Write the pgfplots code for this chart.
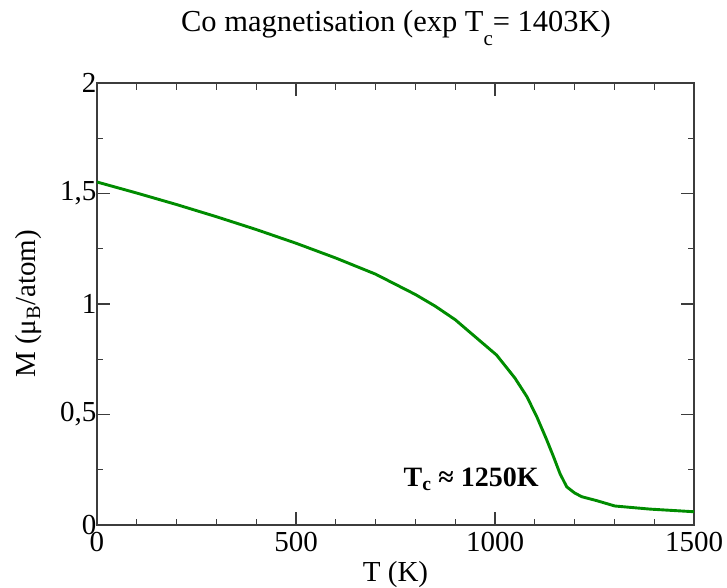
\documentclass[border=0pt]{standalone}
\usepackage{pgfplots}
\pgfplotsset{compat=1.18}
\usepackage{fontspec}
\setmainfont{Liberation Serif}
\definecolor{curve}{RGB}{0,140,0}
\definecolor{axisgray}{RGB}{60,60,60}
\begin{document}
\begin{tikzpicture}[x=1pt,y=1pt]
\useasboundingbox (0,0) rectangle (727,587);
\node[anchor=base, font=\fontsize{30.5}{35}\selectfont] at (396,555) {Co magnetisation (exp T\raisebox{-13.4pt}{\fontsize{21}{24}\selectfont c}= 1403K)};
\begin{axis}[
  at={(97pt,62pt)}, anchor=south west,
  scale only axis, width=597pt, height=442pt,
  xmin=0, xmax=1500, ymin=0, ymax=2,
  xtick={0,500,1000,1500}, minor x tick num=4,
  ytick={0,0.5,1,1.5,2}, minor y tick num=1,
  tick align=inside, major tick length=13pt, minor tick length=6.5pt,
  axis line style={axisgray, line width=1.2pt},
  every tick/.style={axisgray, line width=1.2pt},
  tick label style={font=\fontsize{29}{34}\selectfont},
  xticklabel style={yshift=-4pt},
  yticklabel style={xshift=3pt},
  /pgf/number format/assume math mode=true,
  /pgf/number format/use comma,
  /pgf/number format/1000 sep={},
  xlabel={T (K)}, ylabel={M (μ\textsubscript{B}/atom)},
  label style={font=\fontsize{29}{34}\selectfont},
  xlabel style={at={(axis description cs:0.5,0)}, anchor=base, yshift=-56.5pt},
  ylabel style={at={(axis description cs:-0.1147,0.5)}, anchor=center},
  clip=true,
]
\addplot[curve, line width=2.9pt, line join=round] coordinates {
(0,1.552) (100,1.502) (200,1.450) (300,1.395) (400,1.337) (500,1.275)
(600,1.208) (700,1.135) (800,1.043) (850,0.990) (900,0.929) (950,0.852)
(1004,0.769) (1050,0.665) (1080,0.581) (1105,0.490) (1130,0.385)
(1147,0.309) (1163,0.234) (1180,0.173) (1200,0.145) (1218,0.128)
(1256,0.110) (1301,0.086) (1389,0.072) (1500,0.060)
};
\node[anchor=base, font=\bfseries\fontsize{28}{33}\selectfont] at (axis cs:940,0.173) {T\textsubscript{c} ≈ 1250K};
\end{axis}
\end{tikzpicture}
\end{document}
